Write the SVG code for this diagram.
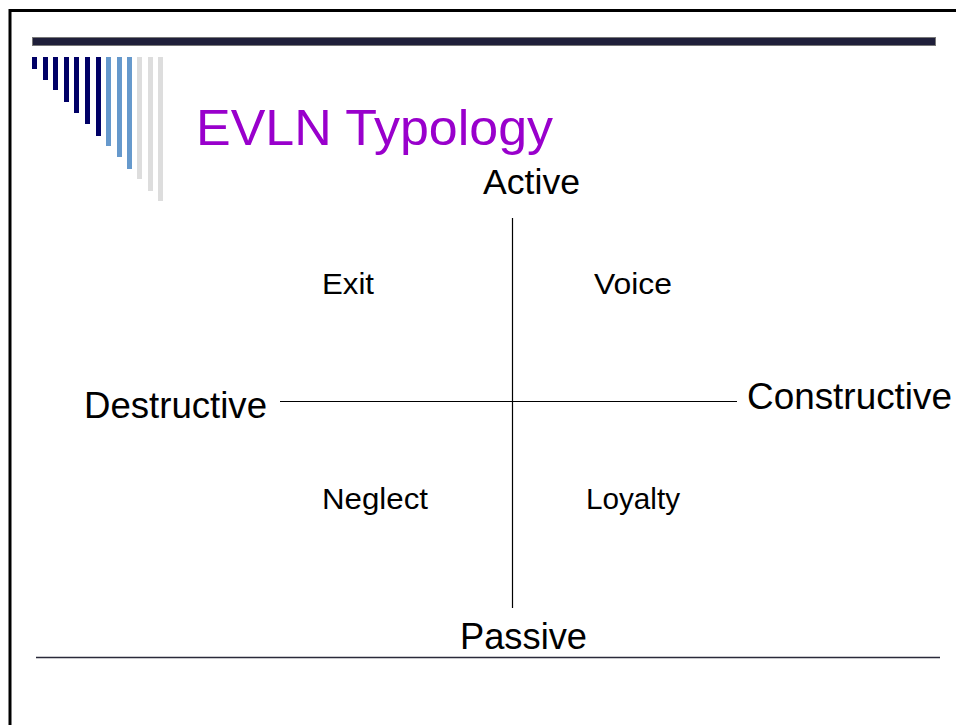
<svg xmlns="http://www.w3.org/2000/svg" width="956" height="725" viewBox="0 0 956 725">
<style>
.t{font-family:"Liberation Sans",Arial,sans-serif;fill:#000}
.ax{stroke:#000;stroke-width:1.2;fill:none}
.n{fill:#000066}.b{fill:#6699cc}.g{fill:#dddddd}
</style>
<rect x="0" y="0" width="956" height="725" fill="#fff"/>
<path d="M10,725 V10.5 H956" fill="none" stroke="#000" stroke-width="3"/>
<rect x="32.5" y="37.5" width="903" height="8" fill="#1f1f3a" stroke="#777" stroke-width="1"/>
<g id="bars">
<rect class="n" x="32" y="57" width="5" height="12"/>
<rect class="n" x="43" y="57" width="5" height="23"/>
<rect class="n" x="53" y="57" width="5" height="33"/>
<rect class="n" x="64" y="57" width="5" height="45"/>
<rect class="n" x="74" y="57" width="5" height="56"/>
<rect class="n" x="85" y="57" width="5" height="67"/>
<rect class="n" x="96" y="57" width="5" height="79"/>
<rect class="b" x="106" y="57" width="5" height="89"/>
<rect class="b" x="117" y="57" width="5" height="100"/>
<rect class="b" x="127" y="57" width="5" height="112"/>
<rect class="g" x="137" y="57" width="5" height="122"/>
<rect class="g" x="148" y="57" width="5" height="134"/>
<rect class="g" x="158" y="57" width="5" height="144"/>
</g>
<text x="196" y="145" textLength="357" lengthAdjust="spacingAndGlyphs" style="font-family:'Liberation Sans',Arial,sans-serif;font-size:50px;fill:#9900cc">EVLN Typology</text>
<g id="connectors">
<line class="ax" x1="512.5" y1="218" x2="512.5" y2="608"/>
<line class="ax" x1="280" y1="401.5" x2="737" y2="401.5"/>
</g>
<g id="active"><text class="t" x="483" y="194" font-size="35" textLength="97" lengthAdjust="spacingAndGlyphs">Active</text></g>
<g id="passive"><text class="t" x="460" y="649" font-size="36" textLength="127" lengthAdjust="spacingAndGlyphs">Passive</text></g>
<g id="destructive"><text class="t" x="84" y="418" font-size="36" textLength="183" lengthAdjust="spacingAndGlyphs">Destructive</text></g>
<g id="constructive"><text class="t" x="747" y="409" font-size="36" textLength="205" lengthAdjust="spacingAndGlyphs">Constructive</text></g>
<g id="exit"><text class="t" x="322" y="294" font-size="30" textLength="52" lengthAdjust="spacingAndGlyphs">Exit</text></g>
<g id="voice"><text class="t" x="594" y="294" font-size="30" textLength="78" lengthAdjust="spacingAndGlyphs">Voice</text></g>
<g id="neglect"><text class="t" x="322" y="509" font-size="30" textLength="106" lengthAdjust="spacingAndGlyphs">Neglect</text></g>
<g id="loyalty"><text class="t" x="586" y="509" font-size="30" textLength="94" lengthAdjust="spacingAndGlyphs">Loyalty</text></g>
<line x1="36" y1="657.5" x2="940" y2="657.5" stroke="#2a2a3a" stroke-width="1.5"/>
</svg>
